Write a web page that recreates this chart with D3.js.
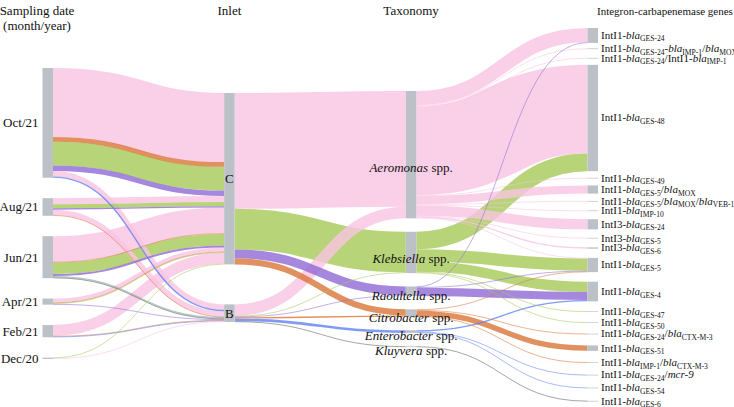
<!DOCTYPE html>
<html><head><meta charset="utf-8">
<script src="https://cdn.jsdelivr.net/npm/d3@7"></script>
<style>
body{margin:0;background:#fff}
svg{display:block}
</style>
</head><body>
<svg id="chart" width="734" height="407"></svg>
<script>
// ---------------- data ----------------
const dates = ["Oct/21","Aug/21","Jun/21","Apr/21","Feb/21","Dec/20"];
const inlets = ["C","B"];
const taxa = ["Aeromonas","Klebsiella","Raoultella","Citrobacter","Enterobacter","Kluyvera"];
const genes = [
  "IntI1-*bla*_{GES-24}",
  "IntI1-*bla*_{GES-24}-*bla*_{IMP-1}/*bla*_{MOX}",
  "IntI1-*bla*_{GES-24}/IntI1-*bla*_{IMP-1}",
  "IntI1-*bla*_{GES-48}",
  "IntI1-*bla*_{GES-49}",
  "IntI1-*bla*_{GES-5}/*bla*_{MOX}",
  "IntI1-*bla*_{GES-5}/*bla*_{MOX}/*bla*_{VEB-1}",
  "IntI1-*bla*_{IMP-10}",
  "IntI3-*bla*_{GES-24}",
  "IntI3-*bla*_{GES-5}",
  "IntI3-*bla*_{GES-6}",
  "IntI1-*bla*_{GES-5}",
  "IntI1-*bla*_{GES-4}",
  "IntI1-*bla*_{GES-47}",
  "IntI1-*bla*_{GES-50}",
  "IntI1-*bla*_{GES-24}/*bla*_{CTX-M-3}",
  "IntI1-*bla*_{GES-51}",
  "IntI1-*bla*_{IMP-1}/*bla*_{CTX-M-3}",
  "IntI1-*bla*_{GES-24}/*mcr-9*",
  "IntI1-*bla*_{GES-54}",
  "IntI1-*bla*_{GES-6}"
];
const columnTitles = [["Sampling date","(month/year)"],["Inlet"],["Taxonomy"],["Integron-carbapenemase genes"]];

// sampling date -> inlet, split by taxon: [date, inlet, taxon, isolates]
const dateInletFlows = [
  ["Oct/21","C","Aeromonas",102],
  ["Oct/21","C","Citrobacter",7],
  ["Oct/21","C","Klebsiella",35],
  ["Oct/21","C","Raoultella",8],
  ["Oct/21","B","Aeromonas",8],
  ["Oct/21","B","Enterobacter",2],
  ["Aug/21","C","Aeromonas",9],
  ["Aug/21","C","Klebsiella",6],
  ["Aug/21","C","Raoultella",2],
  ["Aug/21","B","Aeromonas",8],
  ["Aug/21","B","Citrobacter",1],
  ["Jun/21","C","Aeromonas",38],
  ["Jun/21","C","Citrobacter",1],
  ["Jun/21","C","Klebsiella",17],
  ["Jun/21","C","Raoultella",3],
  ["Jun/21","B","Enterobacter",1],
  ["Jun/21","B","Klebsiella",1],
  ["Jun/21","B","Kluyvera",1],
  ["Apr/21","C","Aeromonas",6],
  ["Apr/21","C","Citrobacter",1],
  ["Apr/21","C","Klebsiella",1],
  ["Apr/21","B","Raoultella",1],
  ["Feb/21","C","Aeromonas",16],
  ["Feb/21","B","Citrobacter",1],
  ["Feb/21","B","Enterobacter",1],
  ["Dec/20","C","Klebsiella",1],
  ["Dec/20","B","Aeromonas",1]
];

// taxon -> gene: [taxon, gene index, isolates]
const taxonGeneFlows = [
  ["Aeromonas",0,21],["Aeromonas",1,1],["Aeromonas",2,1],["Aeromonas",3,131],
  ["Aeromonas",4,1],["Aeromonas",5,12],["Aeromonas",6,1],["Aeromonas",7,1],
  ["Aeromonas",8,15],["Aeromonas",9,1],["Aeromonas",10,2],["Aeromonas",11,1],
  ["Klebsiella",3,26],["Klebsiella",11,18],["Klebsiella",12,15],["Klebsiella",13,1],["Klebsiella",14,1],
  ["Raoultella",0,1],["Raoultella",11,1],["Raoultella",12,12],
  ["Citrobacter",11,1],["Citrobacter",15,1],["Citrobacter",16,8],["Citrobacter",17,1],
  ["Enterobacter",12,2],["Enterobacter",18,1],["Enterobacter",19,1],
  ["Kluyvera",20,1]
];

const taxonColors = {
  Aeromonas:"#f9c4e2", Klebsiella:"#a5c956", Raoultella:"#9069d6",
  Citrobacter:"#d97537", Enterobacter:"#6082f2", Kluyvera:"#5a5a5a"
};

// ---------------- layout ----------------
const FONT = "'Liberation Serif'";
const svg = d3.select("#chart");
const nodeW = 10.5;
const xCol = d3.scalePoint().domain([0,1,2,3]).range([42.5, 587.5]);
const colExtent = [[68,359],[93,322],[91,347],[28,401.5]];
const gapGrowth = [0,0,0,1.28];
const labelSpacing = [0,0,0,9.5];
const totalIsolates = d3.sum(dateInletFlows, d => d[3]);
const vy = d3.scaleLinear().domain([0, totalIsolates]).range([0, 189]);

const cols = [dates, inlets, taxa, genes];
const nodes = [], byKey = new Map();
cols.forEach((arr, c) => arr.forEach((name, i) => {
  const n = {name, col:c, idx:i, src:[], tgt:[]};
  nodes.push(n); byKey.set(c + "|" + i, n);
}));
const links = [];
function addLink(sc, si, tc, ti, taxon, value) {
  const s = byKey.get(sc + "|" + si), t = byKey.get(tc + "|" + ti);
  const l = {source:s, target:t, taxon, value};
  s.src.push(l); t.tgt.push(l); links.push(l);
}
dateInletFlows.forEach(([d, inl, tx, v]) => addLink(0, dates.indexOf(d), 1, inlets.indexOf(inl), tx, v));
d3.rollups(dateInletFlows, v => d3.sum(v, d => d[3]), d => d[1], d => d[2])
  .forEach(([inl, arr]) => arr.forEach(([tx, v]) => addLink(1, inlets.indexOf(inl), 2, taxa.indexOf(tx), tx, v)));
taxonGeneFlows.forEach(([tx, g, v]) => addLink(2, taxa.indexOf(tx), 3, g, tx, v));

const alpha = new Map(taxa.slice().sort(d3.ascending).map((t, i) => [t, i]));
nodes.forEach(n => {
  n.value = Math.max(d3.sum(n.src, l => l.value), d3.sum(n.tgt, l => l.value));
  n.h = vy(n.value);
  n.x0 = xCol(n.col); n.x1 = n.x0 + nodeW;
});
[0,1,2,3].forEach(c => {
  const cn = nodes.filter(n => n.col === c);
  const [top, bottom] = colExtent[c];
  const free = (bottom - top) - d3.sum(cn, n => n.h);
  const m = cn.length - 1;
  const w = d3.range(m).map(i => 1 + gapGrowth[c] * (m > 1 ? i / (m - 1) : 0));
  const req = d3.range(m).map(i => Math.max(0, labelSpacing[c] - (cn[i].h + cn[i + 1].h) / 2));
  let lo = 0, hi = free;
  for (let k = 0; k < 60; k++) {
    const s = (lo + hi) / 2;
    const tot = d3.sum(w, (wi, i) => Math.max(req[i], s * wi));
    if (tot > free) hi = s; else lo = s;
  }
  const gaps = w.map((wi, i) => Math.max(req[i], lo * wi));
  let y = top;
  cn.forEach((n, i) => {
    n.y0 = y; n.y1 = y + n.h;
    y = n.y1 + (i < m ? gaps[i] : 0);
  });
});
nodes.forEach(n => {
  n.src.sort((a, b) => a.target.idx - b.target.idx || alpha.get(a.taxon) - alpha.get(b.taxon));
  n.tgt.sort((a, b) => a.source.idx - b.source.idx || alpha.get(a.taxon) - alpha.get(b.taxon));
  let y = n.y0;
  n.src.forEach(l => { l.w = vy(l.value); l.ys = y + l.w / 2; y += l.w; });
  y = n.y0;
  n.tgt.forEach(l => { l.w = vy(l.value); l.yt = y + l.w / 2; y += l.w; });
});

// ---------------- draw ----------------
const linkGen = d3.linkHorizontal().x(d => d[0]).y(d => d[1]);
svg.append("g").attr("fill", "none")
  .selectAll("path")
  .data(links.slice().sort((a, b) => b.value - a.value))
  .join("path")
  .attr("d", l => linkGen({source:[l.source.x1, l.ys], target:[l.target.x0, l.yt]}))
  .attr("stroke", l => taxonColors[l.taxon])
  .attr("stroke-opacity", 0.8)
  .attr("stroke-width", l => Math.max(0.6, l.w));

svg.append("g").selectAll("rect").data(nodes).join("rect")
  .attr("x", n => n.x0).attr("y", n => n.y0)
  .attr("width", nodeW).attr("height", n => Math.max(0.7, n.h))
  .attr("fill", "#bcc0c7");

function txt(parent) {
  return parent.append("text").style("font-family", FONT).attr("fill", "#111");
}

// column titles
const titleX = [37, xCol(1) + nodeW/2, xCol(2) + nodeW/2, 597];
columnTitles.forEach((lines, c) => {
  const t = txt(svg).style("font-size", c === 3 ? "11px" : "13px")
    .attr("text-anchor", c === 3 ? "start" : "middle");
  lines.forEach((s, i) => t.append("tspan").attr("x", titleX[c]).attr("y", 15 + i * 15).text(s));
});

const lab = svg.append("g");
// dates
nodes.filter(n => n.col === 0).forEach(n => {
  txt(lab).attr("x", n.x0 - 4).attr("y", (n.y0 + n.y1) / 2).attr("dy", "0.35em")
    .attr("text-anchor", "end").style("font-size", "13px").text(n.name);
});
// inlets
nodes.filter(n => n.col === 1).forEach(n => {
  txt(lab).attr("x", n.x0 + nodeW / 2).attr("y", (n.y0 + n.y1) / 2).attr("dy", "0.35em")
    .attr("text-anchor", "middle").style("font-size", "13px").text(n.name);
});
// taxa
nodes.filter(n => n.col === 2).forEach(n => {
  const t = txt(lab).attr("x", n.x0 + nodeW / 2).attr("y", n.y0 + 0.57 * n.h + 3.5).attr("dy", "0.35em")
    .attr("text-anchor", "middle").style("font-size", "13px");
  t.append("tspan").style("font-style", "italic").text(n.name);
  t.append("tspan").text(" spp.");
});
// genes
function richText(sel, str) {
  const parts = str.split(/(\*[^*]+\*|_\{[^}]+\})/).filter(s => s);
  let sub = false;
  parts.forEach(p => {
    if (p.startsWith("_{")) {
      sel.append("tspan").attr("dy", sub ? 0 : 2.6).style("font-size", "7.6px").text(p.slice(2, -1));
      sub = true;
    } else {
      const it = p.startsWith("*");
      const t = sel.append("tspan").text(it ? p.slice(1, -1) : p);
      if (it) t.style("font-style", "italic");
      if (sub) { t.attr("dy", -2.6); sub = false; }
    }
  });
}
nodes.filter(n => n.col === 3).forEach(n => {
  const t = txt(lab).attr("x", n.x1 + 3).attr("y", (n.y0 + n.y1) / 2 + 3.4)
    .style("font-size", "11px");
  richText(t, n.name);
});
</script>
</body></html>
